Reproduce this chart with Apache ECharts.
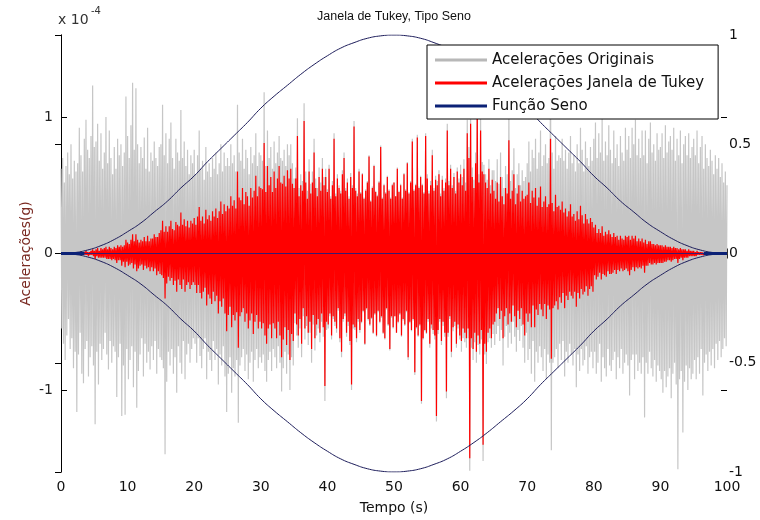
<!DOCTYPE html>
<html><head><meta charset="utf-8">
<script src="https://cdn.jsdelivr.net/npm/echarts@6/dist/echarts.min.js"></script>
<style>html,body{margin:0;padding:0;background:#fff}#c{width:760px;height:520px}</style>
</head><body><div id="c"></div>
<script>
// Tempo (s): samples every 0.125 s from 0 to 100
const sampleStep = 0.125;

// Acelerações Originais (x 10^-4 g), 40 samples per 5 s
const originalAcc = [
 0.62,-0.55,0.70,-0.66,0.52,-0.78,0.64,-0.60,0.74,-0.48,0.58,-0.70,0.80,-0.62,0.55,-0.84,0.68,-0.72,0.60,-1.16,
 0.66,-0.74,0.92,-0.58,0.72,-0.88,0.60,-0.95,0.84,-0.70,0.98,-0.64,0.76,-0.90,0.70,-0.76,0.86,-0.68,1.23,-0.82,
 0.78,-1.25,0.82,-0.72,0.95,-0.96,0.68,-0.66,0.88,-0.78,0.62,-0.70,0.74,-0.58,1.00,-0.74,0.66,-0.85,0.90,-0.64,
 0.70,-0.80,0.58,-0.68,0.78,-0.72,0.62,-1.05,0.84,-0.76,0.72,-0.66,0.80,-1.19,0.64,-0.82,0.74,-1.18,1.15,-0.70,
 0.86,-0.92,0.70,-0.78,0.94,-0.68,1.25,-0.98,0.76,-0.72,1.21,-1.13,0.80,-0.86,0.66,-0.74,0.78,-0.62,0.70,-0.90,
 0.85,-0.66,0.62,-0.80,0.92,-0.72,0.60,-0.85,0.74,-0.68,0.68,-0.78,0.82,-0.64,0.70,-0.88,0.64,-0.70,0.78,-0.76,
 0.80,-0.78,1.09,-0.84,0.72,-1.47,0.88,-0.94,0.66,-0.72,0.84,-0.82,0.96,-0.70,0.70,-0.88,0.62,-0.76,0.84,-1.02,
 0.74,-0.68,0.68,-0.80,1.05,-0.88,0.70,-0.64,0.82,-0.92,0.64,-0.74,0.76,-0.66,0.58,-0.80,0.72,-0.70,0.66,-0.62,
 0.76,-0.66,0.58,-0.80,0.72,-0.62,0.90,-0.75,0.62,-0.84,0.68,-0.70,0.54,-0.62,0.78,-0.92,0.60,-0.72,0.66,-0.78,
 0.56,-0.86,0.70,-0.64,0.62,-0.78,0.74,-0.70,0.58,-0.96,0.66,-0.74,0.80,-0.82,0.60,-0.68,0.74,-0.90,0.64,-1.16,
 0.70,-0.88,0.64,-0.76,0.80,-1.02,0.66,-0.84,0.72,-0.90,0.60,-0.78,1.09,-1.24,0.74,-0.82,0.68,-0.76,0.84,-0.70,
 0.62,-0.86,0.76,-0.74,0.70,-0.92,0.58,-0.80,0.78,-0.72,0.66,-0.94,0.72,-0.78,0.88,-0.70,0.64,-0.84,0.74,-0.76,
 0.72,-0.80,0.68,-0.74,1.18,-0.86,0.64,-0.94,0.90,-0.78,0.70,-0.72,0.78,-0.86,0.62,-0.70,0.82,-0.76,0.66,-0.84,
 0.74,-0.68,0.86,-0.80,0.70,-1.01,0.68,-0.84,0.76,-0.72,0.64,-0.88,0.80,-0.74,0.72,-1.00,0.80,-0.76,0.66,-0.82,
 0.55,-0.51,0.63,-0.60,0.99,-0.69,0.48,-0.55,0.58,-0.76,0.53,-0.46,1.10,-0.63,0.60,-0.53,0.46,-0.67,0.69,-0.58,
 0.51,-0.80,0.60,-0.52,0.84,-0.71,0.55,-0.60,0.48,-0.55,0.63,-0.65,0.52,-0.50,0.70,-0.61,0.56,-1.08,0.62,-0.56,
 0.47,-0.55,0.65,-0.46,0.42,-0.63,0.53,-0.48,0.88,-0.53,0.44,-0.58,0.58,-0.42,0.50,-0.65,0.46,-0.76,0.61,-0.50,
 0.74,-0.46,0.48,-0.61,0.55,-0.53,0.42,-0.67,0.59,-1.00,0.50,-0.55,0.97,-0.56,0.48,-0.65,0.44,-0.50,0.62,-0.58,
 0.45,-0.51,0.59,-0.43,0.41,-0.67,0.47,-0.41,0.53,-0.49,0.72,-0.53,0.39,-0.48,0.49,-0.59,0.65,-0.45,0.46,-0.61,
 0.43,-0.43,0.53,-0.51,0.79,-0.47,0.41,-0.59,0.51,-0.63,0.45,-0.41,0.57,-0.53,0.47,-0.71,0.41,-0.47,0.51,-0.55,
 0.52,-0.46,0.42,-0.58,0.63,-0.51,0.46,-0.45,0.51,-0.61,0.41,-0.49,0.59,-0.53,0.47,-0.43,0.67,-0.78,0.45,-0.51,
 0.53,-0.57,0.84,-0.49,0.47,-0.89,0.51,-0.55,0.87,-0.61,0.49,-0.53,0.57,-1.10,0.51,-0.63,0.45,-0.57,0.88,-0.59,
 0.58,-0.50,0.46,-0.69,0.53,-0.55,0.76,-0.59,0.48,-0.63,0.57,-1.23,0.53,-0.59,0.61,-0.50,0.44,-0.67,0.57,-0.53,
 0.48,-0.61,0.55,-1.06,0.95,-0.61,0.53,-0.48,0.65,-0.76,0.50,-0.57,0.59,-0.53,0.46,-0.69,0.63,-0.55,0.55,-0.63,
 0.65,-0.72,0.56,-0.62,0.69,-0.65,0.52,-0.69,0.98,-0.62,0.78,-1.59,1.06,-0.69,0.63,-0.78,0.54,-0.65,0.74,-0.80,
 1.25,-0.67,0.58,-0.74,1.01,-0.63,0.67,-1.52,0.65,-0.74,0.58,-0.81,0.54,-0.65,0.69,-0.62,0.50,-0.69,0.61,-0.59,
 0.61,-0.67,0.53,-0.59,0.69,-0.53,0.51,-0.64,0.74,-0.56,0.56,-0.82,0.48,-0.61,0.64,-0.53,0.58,-0.69,1.10,-0.58,
 0.53,-0.66,0.61,-0.50,0.77,-0.61,0.48,-0.72,0.58,-0.56,0.66,-0.64,0.50,-0.53,0.61,-0.69,0.53,-0.80,0.56,-0.58,
 0.66,-0.78,0.82,-0.70,0.60,-0.88,0.76,-0.64,0.70,-0.94,0.84,-0.72,0.62,-0.80,0.74,-0.68,0.90,-0.76,0.64,-0.86,
 0.72,-0.70,0.80,-0.92,0.66,-0.74,0.70,-0.80,1.52,-1.44,0.74,-0.80,0.62,-0.76,0.86,-0.70,0.68,-0.84,0.72,-0.66,
 0.70,-0.78,0.84,-0.64,0.68,-0.90,0.76,-0.72,0.62,-0.80,0.74,-0.66,0.86,-0.74,0.66,-0.82,0.72,-0.70,0.60,-0.98,
 0.80,-0.74,0.66,-0.86,0.92,-0.70,0.76,-0.82,0.60,-0.78,0.82,-0.68,0.70,-0.88,0.64,-0.76,0.78,-0.72,0.68,-0.84,
 0.84,-0.72,0.96,-0.88,0.70,-0.80,0.88,-0.66,0.74,-0.94,1.00,-0.76,0.68,-0.84,0.82,-0.90,0.72,-0.70,0.94,-0.82,
 0.76,-0.86,0.66,-0.78,0.90,-0.72,0.70,-0.92,0.80,-0.76,0.64,-0.84,0.86,-0.70,0.74,-0.88,0.68,-0.80,0.92,-0.74,
 0.76,-0.82,0.86,-1.04,0.70,-0.78,0.92,-0.74,0.80,-0.92,0.98,-0.74,0.72,-0.86,0.84,-0.80,0.70,-0.88,0.90,-0.76,
 0.72,-1.20,0.90,-0.80,0.66,-0.88,0.84,-0.72,0.96,-0.84,0.74,-0.90,0.80,-0.78,0.68,-0.94,0.88,-0.82,0.76,-0.86,
 0.78,-0.92,0.88,-1.02,0.70,-0.86,0.94,-0.98,0.74,-0.90,0.82,-0.84,0.86,-1.06,0.76,-0.88,0.92,-0.80,0.68,-0.96,
 0.84,-1.58,0.72,-0.92,0.90,-0.86,0.66,-1.31,0.80,-0.94,0.86,-0.82,0.72,-1.00,0.88,-0.84,0.70,-0.92,0.78,-0.88,
 0.84,-0.78,0.72,-0.92,0.90,-0.76,0.66,-0.88,0.78,-0.70,0.86,-1.04,0.62,-0.80,0.80,-0.74,0.70,-0.86,0.64,-0.72,
 0.76,-0.82,0.68,-0.70,0.58,-0.84,0.72,-0.66,0.62,-0.78,0.70,-0.64,0.56,-0.76,0.66,-0.70,0.52,-0.62,0.60,-0.68,
 0.50
];

// Acelerações Janela de Tukey (x 10^-4 g), same sampling
const tukeyAcc = [
 0,0,0,0,0,0,0,0,0,0,0,0,0,0,0,0,0,0,0,0,
 0,0,0,0,0.01,-0.01,0.01,-0.01,0.01,-0.01,0.02,-0.01,0.01,-0.02,0.01,-0.01,0.02,-0.01,0.03,-0.02,
 0.02,-0.04,0.03,-0.02,0.04,-0.03,0.02,-0.03,0.04,-0.03,0.03,-0.03,0.04,-0.03,0.05,-0.04,0.03,-0.04,0.05,-0.04,
 0.04,-0.05,0.03,-0.04,0.05,-0.05,0.04,-0.07,0.06,-0.05,0.05,-0.05,0.06,-0.09,0.05,-0.06,0.06,-0.10,0.10,-0.06,
 0.08,-0.09,0.07,-0.08,0.10,-0.07,0.14,-0.11,0.09,-0.08,0.14,-0.13,0.10,-0.11,0.08,-0.09,0.10,-0.08,0.09,-0.12,
 0.12,-0.09,0.09,-0.11,0.13,-0.10,0.09,-0.13,0.11,-0.10,0.11,-0.13,0.14,-0.11,0.12,-0.16,0.12,-0.13,0.15,-0.15,
 0.17,-0.16,0.24,-0.18,0.16,-0.33,0.20,-0.22,0.16,-0.17,0.20,-0.20,0.24,-0.18,0.18,-0.23,0.17,-0.20,0.23,-0.28,
 0.21,-0.19,0.20,-0.23,0.30,-0.26,0.21,-0.19,0.25,-0.28,0.20,-0.23,0.24,-0.21,0.19,-0.26,0.24,-0.23,0.22,-0.21,
 0.26,-0.23,0.21,-0.29,0.27,-0.23,0.34,-0.29,0.24,-0.33,0.27,-0.28,0.22,-0.25,0.32,-0.38,0.25,-0.30,0.28,-0.33,
 0.24,-0.37,0.31,-0.28,0.27,-0.35,0.33,-0.31,0.26,-0.44,0.31,-0.35,0.38,-0.39,0.29,-0.33,0.36,-0.44,0.31,-0.57,
 0.35,-0.45,0.33,-0.39,0.42,-0.54,0.35,-0.45,0.39,-0.49,0.33,-0.43,0.60,-0.69,0.41,-0.46,0.39,-0.43,0.48,-0.40,
 0.36,-0.50,0.45,-0.44,0.42,-0.55,0.35,-0.49,0.48,-0.44,0.41,-0.59,0.46,-0.50,0.57,-0.45,0.42,-0.55,0.49,-0.50,
 0.48,-0.55,0.47,-0.51,0.81,-0.60,0.45,-0.66,0.64,-0.55,0.50,-0.52,0.56,-0.62,0.45,-0.51,0.60,-0.55,0.48,-0.62,
 0.55,-0.50,0.64,-0.60,0.52,-0.76,0.51,-0.63,0.57,-0.54,0.49,-0.67,0.61,-0.56,0.55,-0.78,0.62,-0.59,0.51,-0.64,
 0.48,-0.44,0.55,-0.52,0.86,-0.60,0.42,-0.48,0.50,-0.66,0.46,-0.40,0.97,-0.55,0.52,-0.46,0.40,-0.58,0.60,-0.50,
 0.44,-0.70,0.52,-0.45,0.74,-0.62,0.48,-0.52,0.42,-0.48,0.56,-0.58,0.46,-0.44,0.62,-0.54,0.50,-0.97,0.56,-0.50,
 0.45,-0.52,0.62,-0.44,0.40,-0.60,0.50,-0.46,0.84,-0.50,0.42,-0.55,0.55,-0.40,0.48,-0.62,0.44,-0.72,0.58,-0.48,
 0.70,-0.44,0.46,-0.58,0.52,-0.50,0.40,-0.64,0.56,-0.96,0.48,-0.52,0.93,-0.54,0.46,-0.62,0.42,-0.48,0.60,-0.56,
 0.44,-0.50,0.58,-0.42,0.40,-0.66,0.46,-0.40,0.52,-0.48,0.71,-0.52,0.38,-0.47,0.48,-0.58,0.64,-0.44,0.45,-0.60,
 0.42,-0.42,0.52,-0.50,0.78,-0.46,0.40,-0.58,0.50,-0.62,0.44,-0.40,0.56,-0.52,0.46,-0.70,0.40,-0.46,0.50,-0.54,
 0.52,-0.46,0.42,-0.58,0.62,-0.50,0.45,-0.44,0.50,-0.60,0.40,-0.48,0.58,-0.52,0.46,-0.42,0.66,-0.76,0.44,-0.50,
 0.52,-0.56,0.82,-0.48,0.46,-0.87,0.50,-0.54,0.85,-0.60,0.48,-0.52,0.56,-1.08,0.50,-0.62,0.44,-0.56,0.86,-0.58,
 0.55,-0.48,0.44,-0.66,0.50,-0.52,0.72,-0.56,0.46,-0.60,0.54,-1.19,0.50,-0.56,0.58,-0.48,0.42,-0.64,0.54,-0.50,
 0.46,-0.58,0.52,-1.01,0.90,-0.58,0.50,-0.46,0.62,-0.72,0.48,-0.54,0.56,-0.50,0.44,-0.66,0.60,-0.52,0.52,-0.60,
 0.58,-0.64,0.50,-0.55,0.62,-0.58,0.46,-0.62,0.88,-0.55,0.70,-1.50,0.95,-0.62,0.56,-0.70,0.48,-0.58,0.66,-0.72,
 1.10,-0.60,0.52,-0.66,0.90,-0.56,0.60,-1.40,0.58,-0.66,0.52,-0.72,0.48,-0.58,0.62,-0.55,0.44,-0.62,0.54,-0.52,
 0.46,-0.50,0.40,-0.44,0.52,-0.40,0.38,-0.48,0.56,-0.42,0.42,-0.62,0.36,-0.46,0.48,-0.40,0.44,-0.52,0.83,-0.44,
 0.40,-0.50,0.46,-0.38,0.58,-0.46,0.36,-0.54,0.44,-0.42,0.50,-0.48,0.38,-0.40,0.46,-0.52,0.40,-0.60,0.42,-0.44,
 0.43,-0.50,0.52,-0.44,0.37,-0.54,0.46,-0.38,0.41,-0.54,0.48,-0.41,0.35,-0.45,0.41,-0.37,0.49,-0.41,0.34,-0.46,
 0.38,-0.37,0.42,-0.48,0.34,-0.38,0.36,-0.41,0.84,-0.77,0.37,-0.40,0.31,-0.38,0.43,-0.35,0.34,-0.41,0.35,-0.32,
 0.32,-0.36,0.38,-0.29,0.30,-0.40,0.33,-0.31,0.27,-0.34,0.31,-0.28,0.36,-0.31,0.27,-0.33,0.29,-0.28,0.24,-0.39,
 0.31,-0.29,0.25,-0.33,0.35,-0.26,0.28,-0.30,0.22,-0.28,0.29,-0.24,0.25,-0.31,0.22,-0.26,0.26,-0.24,0.23,-0.28,
 0.19,-0.16,0.21,-0.19,0.15,-0.17,0.18,-0.14,0.15,-0.19,0.20,-0.15,0.13,-0.16,0.16,-0.17,0.14,-0.13,0.17,-0.15,
 0.14,-0.15,0.12,-0.14,0.15,-0.12,0.12,-0.15,0.13,-0.12,0.10,-0.13,0.13,-0.11,0.11,-0.13,0.10,-0.12,0.13,-0.11,
 0.12,-0.13,0.13,-0.16,0.10,-0.12,0.13,-0.10,0.11,-0.13,0.13,-0.10,0.09,-0.11,0.11,-0.10,0.09,-0.11,0.11,-0.09,
 0.08,-0.14,0.10,-0.09,0.07,-0.09,0.09,-0.07,0.09,-0.08,0.07,-0.08,0.07,-0.07,0.06,-0.08,0.07,-0.07,0.06,-0.07,
 0.06,-0.07,0.06,-0.07,0.05,-0.06,0.06,-0.06,0.05,-0.05,0.05,-0.05,0.05,-0.06,0.04,-0.05,0.05,-0.04,0.04,-0.04,
 0.04,-0.07,0.03,-0.04,0.04,-0.03,0.03,-0.05,0.03,-0.03,0.03,-0.03,0.02,-0.03,0.03,-0.02,0.02,-0.02,0.02,-0.02,
 0.02,-0.02,0.01,-0.02,0.02,-0.01,0.01,-0.01,0.01,-0.01,0.01,-0.01,0,0,0,0,0,0,0,0,
 0,0,0,0,0,0,0,0,0,0,0,0,0,0,0,0,0,0,0,0,
 0
];

// Função Seno (right axis), read every 2 s from 0 to 100
const sineStep = 2;
const sineUpper = [0,0.004,0.016,0.036,0.064,0.10,0.14,0.19,0.24,0.30,0.355,0.42,0.48,0.54,0.60,0.665,0.72,0.77,0.82,0.865,0.905,0.94,0.965,0.985,0.996,1.0,
 0.996,0.985,0.965,0.94,0.905,0.865,0.82,0.77,0.72,0.665,0.60,0.54,0.48,0.42,0.355,0.30,0.24,0.19,0.14,0.10,0.064,0.036,0.016,0.004,0];
const sineLower = [0,-0.004,-0.016,-0.036,-0.064,-0.10,-0.14,-0.19,-0.24,-0.30,-0.355,-0.42,-0.48,-0.54,-0.60,-0.665,-0.72,-0.77,-0.82,-0.865,-0.905,-0.94,-0.965,-0.985,-0.996,-1.0,
 -0.996,-0.985,-0.965,-0.94,-0.905,-0.865,-0.82,-0.77,-0.72,-0.665,-0.60,-0.54,-0.48,-0.42,-0.355,-0.30,-0.24,-0.19,-0.14,-0.10,-0.064,-0.036,-0.016,-0.004,0];
// flat (zero) parts of the window, in seconds
const flatStart = [0, 3.5];
const flatEnd = [96.5, 100];

const xTicks = [0,10,20,30,40,50,60,70,80,90,100];
const leftTicks = [-1, 0, 1];
const rightTicks = [-1, -0.5, 0, 0.5, 1];

const font = '"DejaVu Sans", Verdana, sans-serif';
const titleFont = '"Liberation Sans", Arial, sans-serif';
const time = originalAcc.map((_, i) => +(i * sampleStep).toFixed(3));
const sineTime = sineUpper.map((_, i) => i * sineStep);
const pairs = (xs, ys) => ys.map((v, i) => [xs[i], v]);

const chart = echarts.init(document.getElementById('c'), null, {renderer: 'canvas'});
const axisBase = {
  splitLine: {show: false},
  axisLine: {lineStyle: {color: '#000', width: 1}},
  axisTick: {inside: true, length: 5, lineStyle: {color: '#000'}}
};
const option = {
  animation: false,
  backgroundColor: '#fff',
  grid: {left: 61, right: 33, top: 35, bottom: 47},
  xAxis: [
    Object.assign({}, axisBase, {
      type: 'value', min: 0, max: 100, interval: 10, position: 'bottom',
      axisLabel: {color: '#111', fontSize: 14, fontFamily: font, margin: 8,
        customValues: xTicks},
      axisTick: {inside: true, length: 5, lineStyle: {color: '#000'}, customValues: xTicks},
      name: 'Tempo (s)', nameLocation: 'middle', nameGap: 29, nameMoveOverlap: false,
      nameTextStyle: {color: '#111', fontSize: 14, fontFamily: font}
    }),
    Object.assign({}, axisBase, {
      type: 'value', min: 0, max: 100, interval: 10, position: 'top',
      axisLabel: {show: false}
    })
  ],
  yAxis: [
    {
      type: 'value', min: -1.6, max: 1.6, position: 'left',
      splitLine: {show: false},
      axisLine: {lineStyle: {color: '#5a2a2a', width: 1}},
      axisTick: {inside: true, length: 6, lineStyle: {color: '#000'}, customValues: leftTicks},
      axisLabel: {customValues: leftTicks, color: '#222', fontSize: 14, fontFamily: font, margin: 8},
      name: 'Acelerações(g)', nameLocation: 'middle', nameGap: 28, nameRotate: 90, nameMoveOverlap: false,
      nameTextStyle: {color: '#7a2a22', fontSize: 14, fontFamily: font}
    },
    Object.assign({}, axisBase, {
      type: 'value', min: -1, max: 1, interval: 0.5, position: 'right',
      axisTick: {inside: true, length: 6, lineStyle: {color: '#000'}, customValues: rightTicks},
      axisLabel: {customValues: rightTicks, color: '#111', fontSize: 14, fontFamily: font, margin: 2}
    }),
    {
      type: 'value', min: -1.6, max: 1.6, position: 'right',
      splitLine: {show: false}, axisLine: {show: false},
      axisTick: {inside: true, length: 6, lineStyle: {color: '#000'}, customValues: leftTicks},
      axisLabel: {show: false}
    }
  ],
  legend: {
    orient: 'vertical', left: 427, top: 45,
    padding: [7, 14, 5, 8], itemGap: 7,
    icon: 'rect', itemWidth: 52, itemHeight: 3,
    borderColor: '#000', borderWidth: 1, backgroundColor: '#fff',
    selectedMode: false,
    textStyle: {color: '#111', fontSize: 15, fontFamily: font, lineHeight: 16},
    data: [
      {name: 'Acelerações Originais', itemStyle: {color: '#b8b8b8'}},
      {name: 'Acelerações Janela de Tukey', itemStyle: {color: '#ff0000'}},
      {name: 'Função Seno', itemStyle: {color: '#0b2176'}}
    ]
  },
  graphic: [
    {type: 'text', x: 394, y: 17, style: {text: 'Janela de Tukey, Tipo Seno', align: 'center', verticalAlign: 'middle',
      textAlign: 'center', textVerticalAlign: 'middle', font: '12.5px ' + titleFont, fill: '#111'}},
    {type: 'text', x: 58, y: 20, style: {text: 'x 10', align: 'left', verticalAlign: 'middle',
      textAlign: 'left', textVerticalAlign: 'middle', font: '14px ' + font, fill: '#333'}},
    {type: 'text', x: 91, y: 11, style: {text: '-4', align: 'left', verticalAlign: 'middle',
      textAlign: 'left', textVerticalAlign: 'middle', font: '10px ' + font, fill: '#333'}}
  ],
  series: [
    {name: 'Acelerações Originais', type: 'line', xAxisIndex: 0, yAxisIndex: 0,
      data: pairs(time, originalAcc), symbol: 'none', silent: true,
      lineStyle: {color: '#c6c6c6', width: 1.2}, itemStyle: {color: '#c6c6c6'}},
    {name: 'Acelerações Janela de Tukey', type: 'line', xAxisIndex: 0, yAxisIndex: 0,
      data: pairs(time, tukeyAcc), symbol: 'none', silent: true,
      lineStyle: {color: '#ff0000', width: 1.2}, itemStyle: {color: '#ff0000'}},
    {name: 'Função Seno', type: 'line', xAxisIndex: 0, yAxisIndex: 1,
      data: pairs(sineTime, sineUpper), symbol: 'none', smooth: true, silent: true,
      lineStyle: {color: '#1c1c5a', width: 1}, itemStyle: {color: '#0b2176'}},
    {name: 'Função Seno', type: 'line', xAxisIndex: 0, yAxisIndex: 1,
      data: pairs(sineTime, sineLower), symbol: 'none', smooth: true, silent: true,
      lineStyle: {color: '#1c1c5a', width: 1}, itemStyle: {color: '#0b2176'}},
    {name: 'Função Seno', type: 'line', xAxisIndex: 0, yAxisIndex: 1,
      data: [[flatStart[0], 0], [flatEnd[1], 0]], symbol: 'none', silent: true,
      lineStyle: {color: '#3a1a70', width: 1}, itemStyle: {color: '#0b2176'}},
    {name: 'Função Seno', type: 'line', xAxisIndex: 0, yAxisIndex: 1,
      data: flatStart.map(t => [t, 0]), symbol: 'none', silent: true,
      lineStyle: {color: '#0b2176', width: 3}, itemStyle: {color: '#0b2176'}},
    {name: 'Função Seno', type: 'line', xAxisIndex: 0, yAxisIndex: 1,
      data: flatEnd.map(t => [t, 0]), symbol: 'none', silent: true,
      lineStyle: {color: '#0b2176', width: 3}, itemStyle: {color: '#0b2176'}}
  ]
};
chart.setOption(option);
</script>
</body></html>
